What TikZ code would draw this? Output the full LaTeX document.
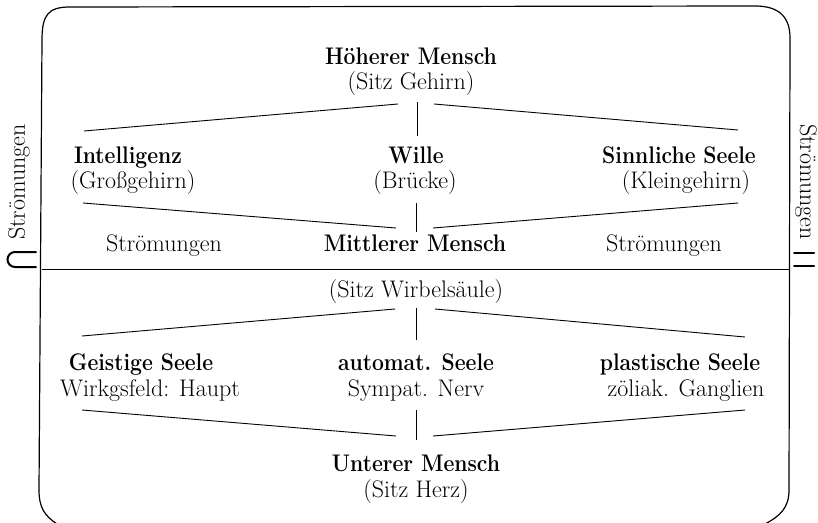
\documentclass[tikz,border=0pt]{standalone}
\usepackage{fontspec}
\newcommand{\hdtx}[1]{\scalebox{0.88}[1]{#1}}
\tikzset{
  hd/.style={font=\fontsize{24}{28}\selectfont\bfseries, inner sep=0pt, anchor=base},
  sb/.style={font=\fontsize{24}{28}\selectfont, inner sep=0pt, anchor=base},
  side/.style={font=\fontsize{24}{28}\selectfont, inner sep=0pt},
  conn/.style={line width=0.9pt},
  framel/.style={line width=1.2pt},
  brk/.style={line width=2pt, line cap=round}
}
\begin{document}
\begin{tikzpicture}[x=1pt,y=-1pt]
\useasboundingbox (0,0) rectangle (818,522);
% frame
\draw[framel] (39,490) -- (42,40) .. controls (42,15) and (48,7) .. (70,7) -- (755,6)
  .. controls (778,6) and (790,16) .. (790,38) -- (789,490)
  .. controls (789,508) and (780,516) .. (765,524);
\draw[framel] (39,490) .. controls (39,508) and (45,516) .. (57,524);
% divider
\coordinate (dvL) at (42,269);
\coordinate (dvR) at (789,269);
\draw[conn] (dvL) -- (dvR);
% side labels
\node[side, rotate=90] (sl) at (19,182) {Strömungen};
\node[side, rotate=-90] (sr) at (806,182) {Strömungen};
\draw[brk] (36,252) -- (15,252) arc[start angle=-90, end angle=-270, radius=7.5] -- (36,267);
\draw[brk] (794,253) -- (814,253);
\draw[brk] (794,266) -- (814,266);
% row 1
\node[hd] (hm) at (411,64) {\hdtx{Höherer Mensch}};
\node[sb] (hms) at (411,89) {(Sitz Gehirn)};
% row 2
\node[hd] (int) at (128,163) {\hdtx{Intelligenz}};
\node[sb] (intb) at (133,188) {(Großgehirn)};
\node[hd] (wil) at (416,163) {\hdtx{Wille}};
\node[sb] (wilb) at (415,188) {(Brücke)};
\node[hd] (sin) at (679,163) {\hdtx{Sinnliche Seele}};
\node[sb] (sinb) at (686,188) {(Kleingehirn)};
% row 3
\node[sb] (stl) at (164,251) {Strömungen};
\node[hd] (mm) at (415,251) {\hdtx{Mittlerer Mensch}};
\node[sb] (str) at (664,251) {Strömungen};
\node[sb] (mms) at (416,297) {(Sitz Wirbelsäule)};
% row 4
\node[hd] (gs) at (141,370) {\hdtx{Geistige Seele}};
\node[sb] (gsb) at (150,396) {Wirkgsfeld: Haupt};
\node[hd] (as) at (416,370) {\hdtx{automat. Seele}};
\node[sb] (asb) at (416,396) {Sympat. Nerv};
\node[hd] (ps) at (680,370) {\hdtx{plastische Seele}};
\node[sb] (psb) at (686,396) {zöliak. Ganglien};
% row 5
\node[hd] (um) at (416,471) {\hdtx{Unterer Mensch}};
\node[sb] (ums) at (416,497) {(Sitz Herz)};
% connectors: upper fan
\coordinate (a1) at (398,104); \coordinate (a2) at (84,131);
\coordinate (a3) at (434,104); \coordinate (a4) at (738,130);
\coordinate (a5) at (417,102); \coordinate (a6) at (417,136);
\draw[conn] (a1) -- (a2);
\draw[conn] (a3) -- (a4);
\draw[conn] (a5) -- (a6);
\coordinate (b1) at (83,203); \coordinate (b2) at (396,228);
\coordinate (b3) at (738,203); \coordinate (b4) at (433,228);
\coordinate (b5) at (416,203); \coordinate (b6) at (416,232);
\draw[conn] (b1) -- (b2);
\draw[conn] (b3) -- (b4);
\draw[conn] (b5) -- (b6);
% lower fans
\coordinate (c1) at (395,309); \coordinate (c2) at (82,336);
\coordinate (c3) at (435,309); \coordinate (c4) at (745,337);
\coordinate (c5) at (416,308); \coordinate (c6) at (416,340);
\draw[conn] (c1) -- (c2);
\draw[conn] (c3) -- (c4);
\draw[conn] (c5) -- (c6);
\coordinate (d1) at (82,410); \coordinate (d2) at (396,436);
\coordinate (d3) at (745,410); \coordinate (d4) at (433,436);
\coordinate (d5) at (416,410); \coordinate (d6) at (416,440);
\draw[conn] (d1) -- (d2);
\draw[conn] (d3) -- (d4);
\draw[conn] (d5) -- (d6);
\end{tikzpicture}
\end{document}
